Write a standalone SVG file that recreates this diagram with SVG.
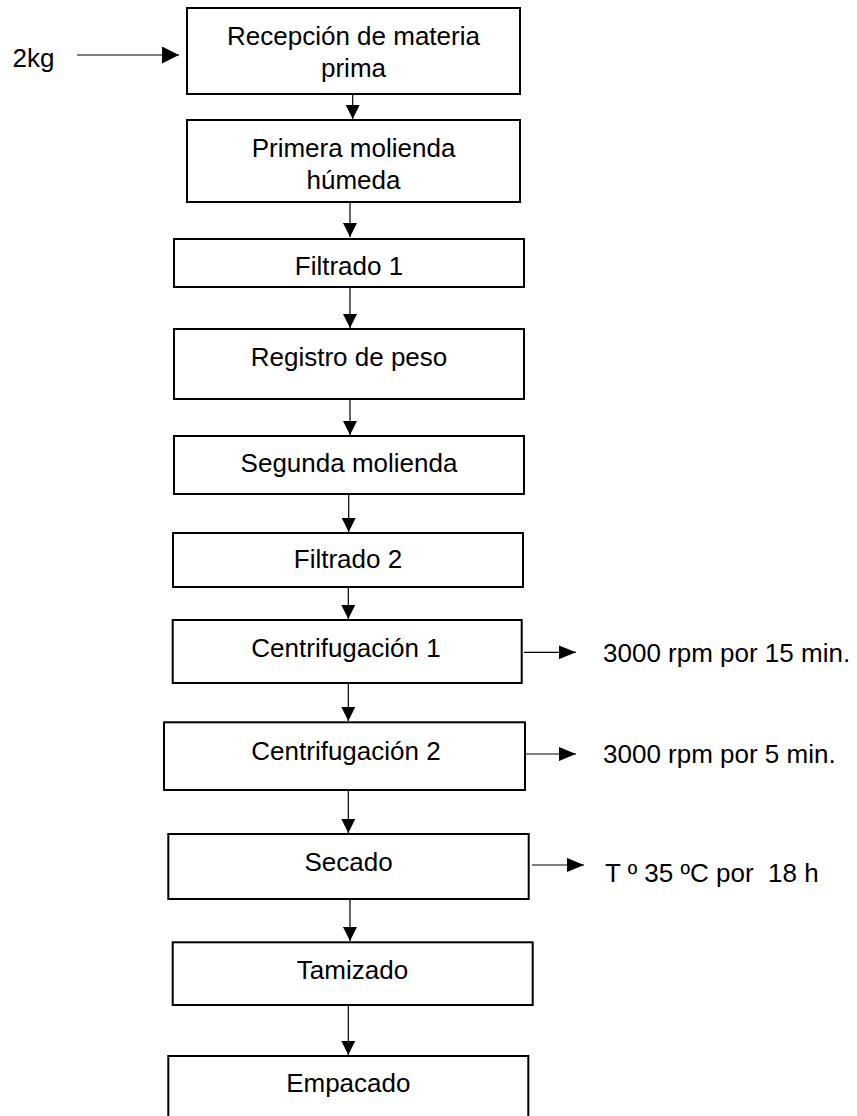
<svg xmlns="http://www.w3.org/2000/svg" width="857" height="1116" viewBox="0 0 857 1116">
<defs>
<style>
.box{fill:#fff;stroke:#000;stroke-width:2}
.t{font-family:"Liberation Sans",Arial,sans-serif;font-size:26px;fill:#000;text-anchor:middle}
.l{font-family:"Liberation Sans",Arial,sans-serif;font-size:26px;fill:#000}
.c{stroke:#000;stroke-width:1.2;fill:none}
</style>
<marker id="ah" markerUnits="userSpaceOnUse" markerWidth="14" markerHeight="14" viewBox="0 0 13 13" refX="13" refY="6.5" orient="auto"><path d="M0,0 L13,6.5 L0,13 Z" fill="#000"/></marker>
<marker id="ahs" markerUnits="userSpaceOnUse" markerWidth="17" markerHeight="14" viewBox="0 0 16 13" refX="16" refY="6.5" orient="auto"><path d="M0,0 L16,6.5 L0,13 Z" fill="#000"/></marker>
<marker id="ahb" markerUnits="userSpaceOnUse" markerWidth="17" markerHeight="17" viewBox="0 0 16 16" refX="16" refY="8" orient="auto"><path d="M0,0 L16,8 L0,16 Z" fill="#000"/></marker>
</defs>
<rect width="857" height="1116" fill="#fff"/>
<g id="connectors">
<line class="c" x1="77" y1="55" x2="179" y2="55" marker-end="url(#ahb)"/>
<line class="c" x1="352.7" y1="95" x2="352.7" y2="119" marker-end="url(#ah)"/>
<line class="c" x1="350" y1="203" x2="350" y2="237" marker-end="url(#ah)"/>
<line class="c" x1="350" y1="288" x2="350" y2="328" marker-end="url(#ah)"/>
<line class="c" x1="350" y1="400" x2="350" y2="435" marker-end="url(#ah)"/>
<line class="c" x1="348.7" y1="491" x2="348.7" y2="532" marker-end="url(#ah)"/>
<line class="c" x1="348.3" y1="588" x2="348.3" y2="619" marker-end="url(#ah)"/>
<line class="c" x1="348.3" y1="684" x2="348.3" y2="721" marker-end="url(#ah)"/>
<line class="c" x1="348.3" y1="791" x2="348.3" y2="833" marker-end="url(#ah)"/>
<line class="c" x1="350" y1="900" x2="350" y2="941" marker-end="url(#ah)"/>
<line class="c" x1="348.3" y1="1006" x2="348.3" y2="1055" marker-end="url(#ah)"/>
<line class="c" x1="524" y1="652.3" x2="576" y2="652.3" marker-end="url(#ahs)"/>
<line class="c" x1="526" y1="754" x2="576" y2="754" marker-end="url(#ahs)"/>
<line class="c" x1="532" y1="865" x2="584" y2="865" marker-end="url(#ahs)"/>
</g>
<g id="input"><text class="l" x="12.5" y="66.5">2kg</text></g>
<g id="n1"><rect class="box" x="187" y="8" width="333" height="86"/><text class="t" x="353.5" y="45">Recepción de materia</text><text class="t" x="353.5" y="77">prima</text></g>
<g id="n2"><rect class="box" x="187" y="120" width="333" height="82"/><text class="t" x="353.5" y="157">Primera molienda</text><text class="t" x="353.5" y="189">húmeda</text></g>
<g id="n3"><rect class="box" x="174" y="239" width="350" height="48"/><text class="t" x="349" y="275">Filtrado 1</text></g>
<g id="n4"><rect class="box" x="174" y="329" width="350" height="70"/><text class="t" x="349" y="366">Registro de peso</text></g>
<g id="n5"><rect class="box" x="174" y="436" width="350" height="58"/><text class="t" x="349" y="471.5">Segunda molienda</text></g>
<g id="n6"><rect class="box" x="173" y="533" width="350" height="54"/><text class="t" x="348" y="568">Filtrado 2</text></g>
<g id="n7"><rect class="box" x="172.7" y="620" width="349" height="63"/><text class="t" x="346" y="656.5">Centrifugación 1</text></g>
<g id="n8"><rect class="box" x="164" y="722.3" width="361" height="67.7"/><text class="t" x="346" y="760">Centrifugación 2</text></g>
<g id="n9"><rect class="box" x="168.3" y="834" width="360.4" height="65"/><text class="t" x="348.5" y="870.5">Secado</text></g>
<g id="n10"><rect class="box" x="172.7" y="942.3" width="360" height="62.7"/><text class="t" x="352.5" y="979">Tamizado</text></g>
<g id="n11"><rect class="box" x="168.3" y="1056" width="360" height="80"/><text class="t" x="348.3" y="1092.3">Empacado</text></g>
<g id="labels">
<text class="l" x="603" y="661.7">3000 rpm por 15 min.</text>
<text class="l" x="603" y="763">3000 rpm por 5 min.</text>
<text class="l" x="605" y="882.3" xml:space="preserve">T º 35 ºC por  18 h</text>
</g>
</svg>
